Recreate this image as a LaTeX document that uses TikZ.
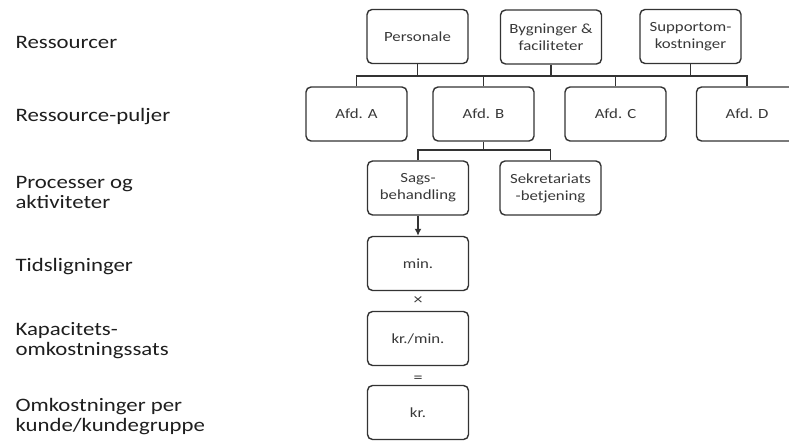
\documentclass[tikz,border=0pt]{standalone}
\usepackage{fontspec}
\setmainfont{Carlito}[FakeStretch=1.2]
\usetikzlibrary{arrows.meta}
\definecolor{ink}{HTML}{1E1E1E}
\definecolor{edge}{HTML}{333333}
\definecolor{boxtxt}{HTML}{383838}

\begin{document}
\begin{tikzpicture}[x=1pt, y=-1pt,
  box/.style={draw=edge, line width=1.4pt, rounded corners=5pt, minimum width=101pt,
    minimum height=54pt, inner sep=0pt, align=center, text=boxtxt,
    font=\fontsize{14}{17}\selectfont},
  lvl/.style={anchor=west, align=left, text=ink, font=\fontsize{19}{20}\selectfont},
  link/.style={draw=edge, line width=1.4pt},
  op/.style={text=boxtxt, inner sep=0pt, font=\fontsize{15}{15}\selectfont}]
\useasboundingbox (0,0) rectangle (789,441);
% level labels on the left
\foreach \y/\n/\txt in {42/l1/Ressourcer, 117/l2/Ressource-puljer,
  192/l3/{Processer og\\aktiviteter}, 267/l4/Tidsligninger,
  341/l5/{Kapacitets-\\omkostningssats}, 417/l6/{Omkostninger per\\kunde/kundegruppe}}{
  \node[lvl] (\n) at (12,\y) {\txt};
}
% resources
\node[box] (pers) at (417.5,36.5) {Personale};
\node[box] (bygn) at (551,37) {Bygninger \&\\faciliteter};
\node[box] (supp) at (690.5,36.5) {Supportom-\\kostninger};
% resource pools
\foreach \x/\n/\txt in {356.5/afdA/A, 483.5/afdB/B, 615.5/afdC/C, 747/afdD/D}{
  \node[box] (\n) at (\x,114) {Afd. \txt};
}
% processes
\node[box] (sags) at (418,188) {Sags-\\behandling};
\node[box] (sekr) at (550.5,188) {Sekretariats\\-betjening};
% time equation -> cost rate -> cost
\node[box] (min) at (418,263.5) {min.};
\node[box] (krmin) at (418,338.5) {kr./min.};
\node[box] (kr) at (418,412.5) {kr.};
\node[op] (times) at (418,301) {×};
\node[op] (eq) at (418,379) {=};
% bus from resources to pools
\coordinate (bus1) at (0,76);
\draw[link] (afdA.north) -- (afdA.north |- bus1) -- (afdD.north |- bus1) -- (afdD.north);
\foreach \n in {afdB, afdC}{ \draw[link] (\n.north) -- (\n.north |- bus1); }
\foreach \n in {pers, bygn, supp}{ \draw[link] (\n.south) -- (\n.south |- bus1); }
% bus from Afd. B to processes
\coordinate (bus2) at (0,150);
\draw[link] (afdB.south) -- (afdB.south |- bus2);
\draw[link] (sags.north) -- (sags.north |- bus2) -- (sekr.north |- bus2) -- (sekr.north);
\draw[link, -{Latex[length=7pt, width=7pt]}] (sags.south) -- (min.north);
\end{tikzpicture}
\end{document}
